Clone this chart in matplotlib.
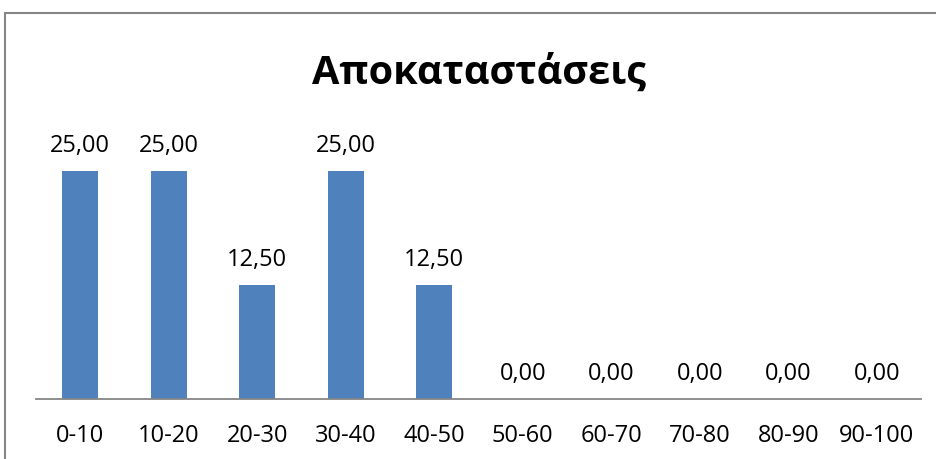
import matplotlib
matplotlib.use("Agg")
import matplotlib.pyplot as plt
from matplotlib.patches import Rectangle

categories = ["0-10", "10-20", "20-30", "30-40", "40-50", "50-60", "60-70", "70-80", "80-90", "90-100"]
values = [25.0, 25.0, 12.5, 25.0, 12.5, 0.0, 0.0, 0.0, 0.0, 0.0]
title = "Αποκαταστάσεις"

plt.rcParams['font.family'] = ['Open Sans', 'DejaVu Sans']

W, H = 937, 459
fig = plt.figure(figsize=(W/100, H/100), dpi=100)
fig.patches.append(Rectangle((5/W, -0.1), 1.2, (H-13)/H + 0.1, transform=fig.transFigure,
                             fill=False, edgecolor='#868686', linewidth=1.5))

ax = fig.add_axes([36/W, (H-399)/H, (921-36)/W, (399-125)/H])
x = range(len(categories))
bars = ax.bar(x, values, width=0.41, color='#4F81BD')
ax.set_xlim(-0.5, len(categories)-0.5)
ax.set_ylim(0, 30)
for xi, v in zip(x, values):
    ax.annotate(f"{v:.2f}".replace('.', ','), (xi, v), xytext=(0, 13.7), textcoords='offset points',
                ha='center', va='baseline', fontsize=17, color='black')
ax.set_xticks(list(x))
ax.set_xticklabels(categories, fontsize=17)
ax.tick_params(axis='x', length=0, pad=18)
ax.set_yticks([])
for s in ['top', 'right', 'left']:
    ax.spines[s].set_visible(False)
ax.spines['bottom'].set_color('#868686')
ax.spines['bottom'].set_linewidth(1.3)
fig.text(479/W, 1 - 84/H, title, ha='center', va='baseline', fontsize=28.5, fontweight='bold')

fig.savefig("out.png", dpi=100)
